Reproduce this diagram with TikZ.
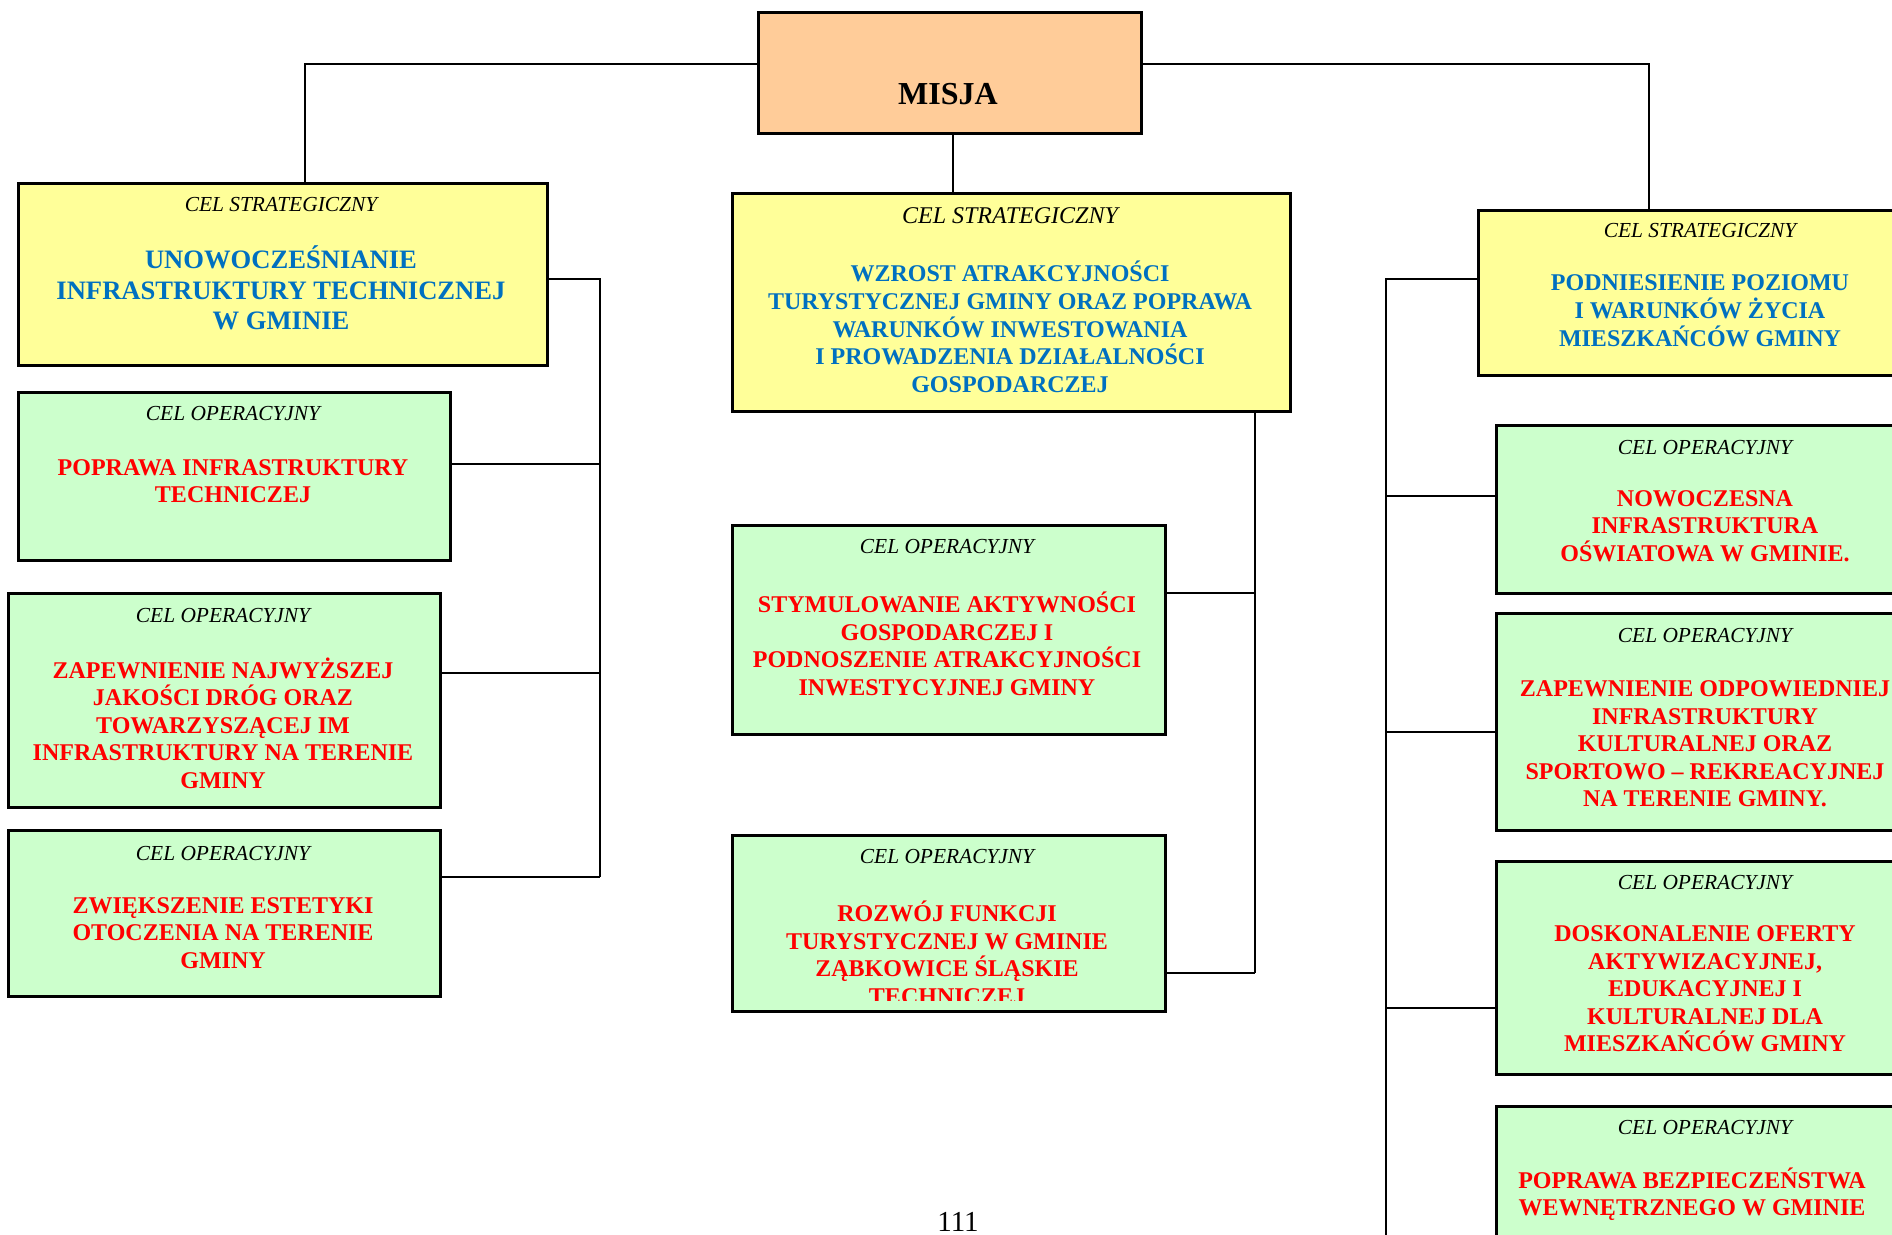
\documentclass[tikz,border=0pt]{standalone}
\usepackage{fontspec}
\setmainfont{Liberation Serif}
\definecolor{myblue}{RGB}{0,112,192}
\definecolor{myyellow}{RGB}{255,255,153}
\definecolor{mygreen}{RGB}{204,255,204}
\definecolor{myorange}{RGB}{255,204,153}
\definecolor{myred}{RGB}{255,0,0}
\begin{document}
\begin{tikzpicture}[x=0.5pt,y=-0.5pt,
  boxbase/.style={draw=black,line width=1.3pt,inner sep=0pt,anchor=north west},
  ybox/.style={boxbase,fill=myyellow},
  gbox/.style={boxbase,fill=mygreen},
  obox/.style={boxbase,fill=myorange},
  lab/.style={font=\fontsize{10.7}{12.5}\selectfont\itshape,inner sep=0pt},
  labbig/.style={font=\fontsize{12}{14}\selectfont\itshape,inner sep=0pt},
  btxt/.style={text=myblue,align=center,inner sep=0pt,font=\fontsize{12}{13.9}\selectfont\bfseries},
  bbig/.style={text=myblue,align=center,inner sep=0pt,font=\fontsize{13.3}{15.3}\selectfont\bfseries},
  rtxt/.style={text=myred,align=center,inner sep=0pt,font=\fontsize{12}{13.75}\selectfont\bfseries},
  conn/.style={draw=black,line width=1pt}]
\useasboundingbox (0,0) rectangle (1892,1235);
\clip (0,0) rectangle (1892,1235);

% boxes
\node[obox,minimum width=191.5pt,minimum height=60.5pt] (misja) at (757,11) {};
\node[ybox,minimum width=264.5pt,minimum height=91pt] (s1) at (17,182) {};
\node[ybox,minimum width=279pt,minimum height=109pt] (s2) at (731,192) {};
\node[ybox,minimum width=223pt,minimum height=82.5pt] (s3) at (1477,209) {};
\node[gbox,minimum width=216pt,minimum height=84pt] (g1) at (17,391) {};
\node[gbox,minimum width=216pt,minimum height=107pt] (g2) at (7,592) {};
\node[gbox,minimum width=216pt,minimum height=83pt] (g3) at (7,829) {};
\node[gbox,minimum width=216.5pt,minimum height=104.5pt] (c1) at (731,524) {};
\node[gbox,minimum width=216.5pt,minimum height=88pt] (c2) at (731,834) {};
\node[gbox,minimum width=210pt,minimum height=84pt] (r1) at (1495,424) {};
\node[gbox,minimum width=210pt,minimum height=108.5pt] (r2) at (1495,612) {};
\node[gbox,minimum width=210pt,minimum height=106.5pt] (r3) at (1495,860) {};
\node[gbox,minimum width=210pt,minimum height=100pt] (r4) at (1495,1105) {};

% texts
\node[font=\fontsize{16}{19}\selectfont\bfseries,inner sep=0pt] (tmisja) at (948,94) {MISJA};

\node[lab] (ls1) at (281,205) {CEL STRATEGICZNY};
\node[bbig] (ts1) at (281,288) {UNOWOCZEŚNIANIE\\INFRASTRUKTURY TECHNICZNEJ\\W GMINIE};

\node[labbig] (ls2) at (1010,216) {CEL STRATEGICZNY};
\node[btxt] (ts2) at (1010,327) {WZROST ATRAKCYJNOŚCI\\TURYSTYCZNEJ GMINY ORAZ POPRAWA\\WARUNKÓW INWESTOWANIA\\I PROWADZENIA DZIAŁALNOŚCI\\GOSPODARCZEJ};

\node[lab] (ls3) at (1700,231) {CEL STRATEGICZNY};
\node[btxt] (ts3) at (1700,311) {PODNIESIENIE POZIOMU\\I WARUNKÓW ŻYCIA\\MIESZKAŃCÓW GMINY};

\node[lab] (lg1) at (233,414) {CEL OPERACYJNY};
\node[rtxt] (tg1) at (233,481) {POPRAWA INFRASTRUKTURY\\TECHNICZEJ};

\node[lab] (lg2) at (223,616) {CEL OPERACYJNY};
\node[rtxt] (tg2) at (223,723) {ZAPEWNIENIE NAJWYŻSZEJ\\JAKOŚCI DRÓG ORAZ\\TOWARZYSZĄCEJ IM\\INFRASTRUKTURY NA TERENIE\\GMINY};

\node[lab] (lg3) at (223,854) {CEL OPERACYJNY};
\node[rtxt] (tg3) at (223,933) {ZWIĘKSZENIE ESTETYKI\\OTOCZENIA NA TERENIE\\GMINY};

\node[lab] (lc1) at (947,547) {CEL OPERACYJNY};
\node[rtxt] (tc1) at (947,644) {STYMULOWANIE AKTYWNOŚCI\\GOSPODARCZEJ I\\PODNOSZENIE ATRAKCYJNOŚCI\\INWESTYCYJNEJ GMINY};

\node[lab] (lc2) at (947,857) {CEL OPERACYJNY};
\begin{scope}
\clip (731,834) rectangle (1164,1000);
\node[rtxt] (tc2) at (947,953) {ROZWÓJ FUNKCJI\\TURYSTYCZNEJ W GMINIE\\ZĄBKOWICE ŚLĄSKIE\\TECHNICZEJ};
\end{scope}

\node[lab] (lr1) at (1705,448) {CEL OPERACYJNY};
\node[rtxt] (tr1) at (1705,526) {NOWOCZESNA\\INFRASTRUKTURA\\OŚWIATOWA W GMINIE.};

\node[lab] (lr2) at (1705,636) {CEL OPERACYJNY};
\node[rtxt] (tr2) at (1705,744) {ZAPEWNIENIE ODPOWIEDNIEJ\\INFRASTRUKTURY\\KULTURALNEJ ORAZ\\SPORTOWO – REKREACYJNEJ\\NA TERENIE GMINY.};

\node[lab] (lr3) at (1705,883) {CEL OPERACYJNY};
\node[rtxt] (tr3) at (1705,989) {DOSKONALENIE OFERTY\\AKTYWIZACYJNEJ,\\EDUKACYJNEJ I\\KULTURALNEJ DLA\\MIESZKAŃCÓW GMINY};

\node[lab] (lr4) at (1705,1128) {CEL OPERACYJNY};
\node[rtxt] (tr4) at (1692,1194) {POPRAWA BEZPIECZEŃSTWA\\WEWNĘTRZNEGO W GMINIE};

\node[font=\fontsize{14.5}{17}\selectfont,inner sep=0pt] (page) at (958,1222) {111};

% connectors from MISJA
\coordinate (j1) at (305,64);
\coordinate (j2) at (1649,64);
\coordinate (j3) at (953,0);
\draw[conn] (misja.west |- j1) -- (j1) -- (j1 |- s1.north);
\draw[conn] (misja.east |- j2) -- (j2) -- (j2 |- s3.north);
\draw[conn] (misja.south -| j3) -- (s2.north -| j3);

% left bus
\coordinate (lb) at (600,279);
\coordinate (lg1b) at (600,464);
\coordinate (lg2b) at (600,673);
\coordinate (lg3b) at (600,877);
\draw[conn] (s1.east |- lb) -- (lb) -- (lg3b);
\draw[conn] (g1.east |- lg1b) -- (lg1b);
\draw[conn] (g2.east |- lg2b) -- (lg2b);
\draw[conn] (g3.east |- lg3b) -- (lg3b);

% center bus
\coordinate (cb) at (1255,0);
\coordinate (cc1b) at (1255,593);
\coordinate (cc2b) at (1255,973);
\draw[conn] (s2.south -| cb) -- (cc2b);
\draw[conn] (c1.east |- cc1b) -- (cc1b);
\draw[conn] (c2.east |- cc2b) -- (cc2b);

% right bus
\coordinate (rb) at (1386,279);
\coordinate (rr1b) at (1386,496);
\coordinate (rr2b) at (1386,732);
\coordinate (rr3b) at (1386,1008);
\coordinate (rend) at (1386,1245);
\draw[conn] (s3.west |- rb) -- (rb) -- (rend);
\draw[conn] (r1.west |- rr1b) -- (rr1b);
\draw[conn] (r2.west |- rr2b) -- (rr2b);
\draw[conn] (r3.west |- rr3b) -- (rr3b);
\end{tikzpicture}
\end{document}
